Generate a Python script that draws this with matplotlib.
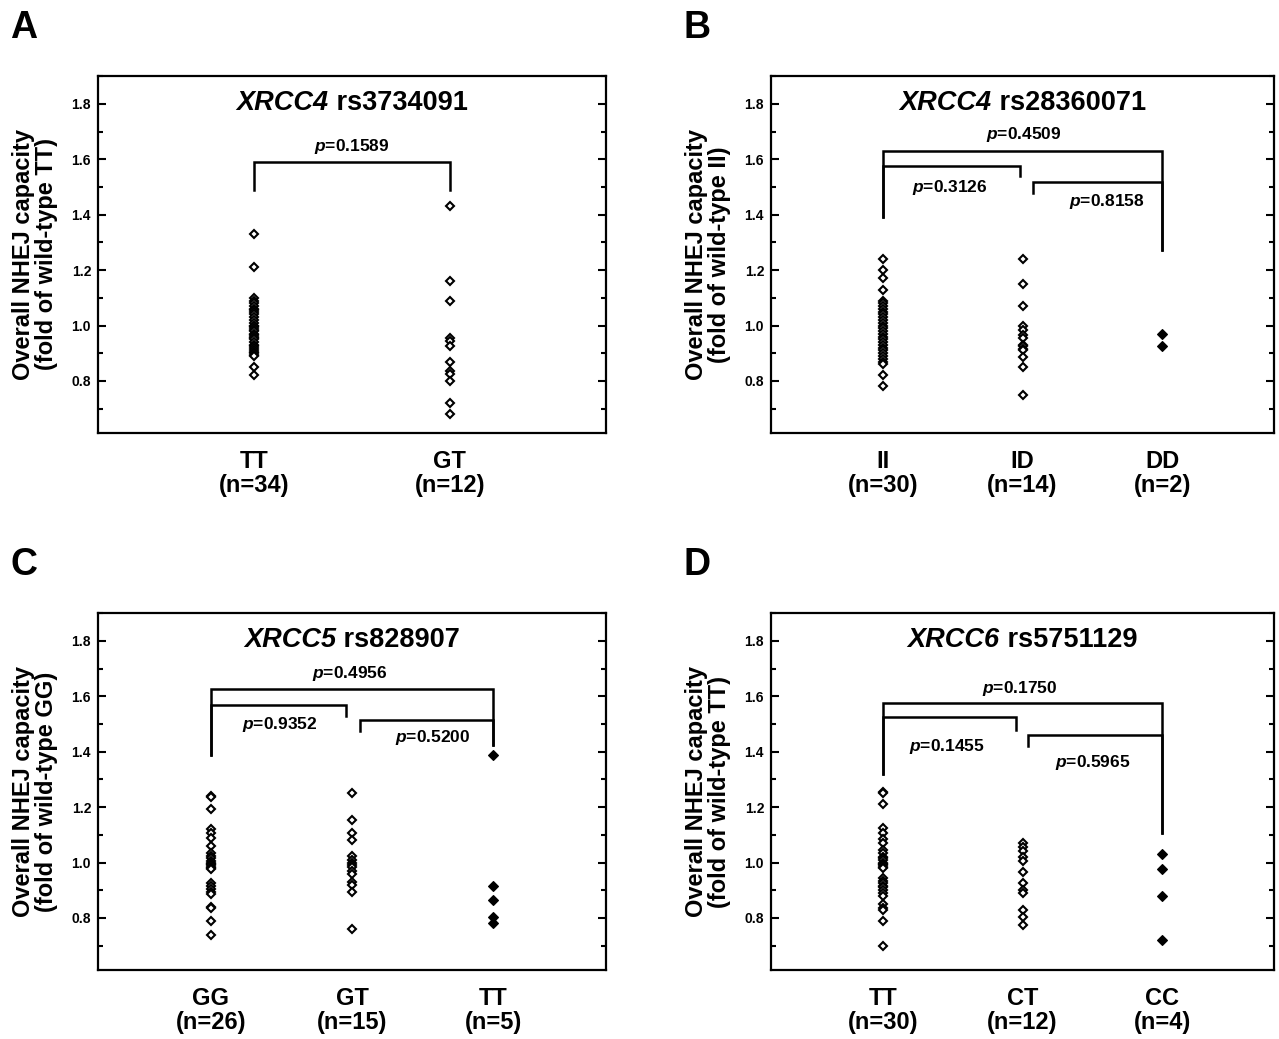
import matplotlib
matplotlib.use('Agg')
import matplotlib.pyplot as plt
from matplotlib.transforms import offset_copy
import numpy as np

plt.rcParams['font.family'] = ['Liberation Sans', 'DejaVu Sans']
plt.rcParams['font.weight'] = 'bold'
plt.rcParams['mathtext.fontset'] = 'custom'
plt.rcParams['mathtext.it'] = 'Liberation Sans:italic:bold'
plt.rcParams['mathtext.rm'] = 'Liberation Sans:bold'

# ---------------- data ----------------
# A: XRCC4 rs3734091
a_labels = ['TT\n(n=34)', 'GT\n(n=12)']
a_tt = [1.33, 1.21, 1.10, 1.09, 1.08, 1.07, 1.06, 1.055, 1.05, 1.04, 1.03, 1.02,
        1.01, 1.00, 1.00, 0.99, 0.985, 0.98, 0.97, 0.965, 0.96, 0.955, 0.95, 0.94,
        0.93, 0.925, 0.92, 0.91, 0.905, 0.90, 0.895, 0.89, 0.85, 0.82]
a_gt = [1.43, 1.16, 1.09, 0.955, 0.945, 0.925, 0.87, 0.835, 0.825, 0.80, 0.72, 0.68]

# B: XRCC4 rs28360071
b_labels = ['II\n(n=30)', 'ID\n(n=14)', 'DD\n(n=2)']
b_ii = [1.24, 1.20, 1.17, 1.13, 1.09, 1.08, 1.07, 1.06, 1.05, 1.04, 1.03, 1.02,
        1.01, 1.00, 0.99, 0.98, 0.97, 0.96, 0.95, 0.94, 0.93, 0.92, 0.91, 0.90,
        0.89, 0.88, 0.87, 0.86, 0.82, 0.78]
b_id = [1.24, 1.15, 1.07, 1.00, 0.985, 0.965, 0.955, 0.93, 0.925, 0.915, 0.91,
        0.885, 0.85, 0.75]
b_dd = [0.97, 0.925]

# C: XRCC5 rs828907
c_labels = ['GG\n(n=26)', 'GT\n(n=15)', 'TT\n(n=5)']
c_gg = [1.24, 1.235, 1.195, 1.12, 1.105, 1.09, 1.06, 1.035, 1.025, 1.015, 1.005,
        1.00, 0.995, 0.99, 0.985, 0.98, 0.975, 0.925, 0.915, 0.905, 0.895, 0.885,
        0.84, 0.835, 0.79, 0.74]
c_gt = [1.25, 1.155, 1.105, 1.08, 1.025, 1.01, 1.00, 0.99, 0.985, 0.97, 0.96,
        0.93, 0.92, 0.895, 0.76]
c_tt = [1.39, 0.915, 0.865, 0.805, 0.78]

# D: XRCC6 rs5751129
d_labels = ['TT\n(n=30)', 'CT\n(n=12)', 'CC\n(n=4)']
d_tt = [1.255, 1.25, 1.21, 1.125, 1.105, 1.085, 1.07, 1.045, 1.035, 1.02, 1.015,
        1.01, 1.00, 0.995, 0.99, 0.985, 0.98, 0.945, 0.935, 0.925, 0.915, 0.91,
        0.90, 0.89, 0.88, 0.85, 0.835, 0.83, 0.79, 0.70]
d_ct = [1.07, 1.055, 1.04, 1.02, 1.005, 0.965, 0.925, 0.90, 0.89, 0.83, 0.805, 0.775]
d_cc = [1.03, 0.975, 0.88, 0.72]

# brackets: (x_left, x_right, y, y_left_end, y_right_end)
# p labels: (x, y, text)
panels = [
    dict(letter='A', gene='XRCC4', snp='rs3734091', ylab='TT',
         groups=[a_tt, a_gt], filled=[False, False], labels=a_labels,
         rect=[98, 433, 508, 357], xlim=(0.2, 2.8),
         brackets=[(1, 2, 1.59, 1.49, 1.49)],
         ptexts=[(1.5, 1.645, '0.1589')]),
    dict(letter='B', gene='XRCC4', snp='rs28360071', ylab='II',
         groups=[b_ii, b_id, b_dd], filled=[False, False, True], labels=b_labels,
         rect=[771, 433, 503, 357], xlim=(0.2, 3.8),
         brackets=[(1, 3, 1.632, 1.393, 1.273), (1, 1.98, 1.576, 1.393, 1.54),
                   (2.075, 3, 1.519, 1.48, 1.273)],
         ptexts=[(2.01, 1.688, '0.4509'), (1.48, 1.497, '0.3126'),
                 (2.605, 1.447, '0.8158')]),
    dict(letter='C', gene='XRCC5', snp='rs828907', ylab='GG',
         groups=[c_gg, c_gt, c_tt], filled=[False, False, True], labels=c_labels,
         rect=[98, 970, 508, 357], xlim=(0.2, 3.8),
         brackets=[(1, 3, 1.627, 1.388, 1.425), (1, 1.958, 1.569, 1.388, 1.529),
                   (2.057, 3, 1.515, 1.475, 1.425)],
         ptexts=[(1.986, 1.681, '0.4956'), (1.49, 1.497, '0.9352'),
                 (2.574, 1.45, '0.5200')]),
    dict(letter='D', gene='XRCC6', snp='rs5751129', ylab='TT',
         groups=[d_tt, d_ct, d_cc], filled=[False, False, True], labels=d_labels,
         rect=[771, 970, 503, 357], xlim=(0.2, 3.8),
         brackets=[(1, 3, 1.576, 1.32, 1.108), (1, 1.954, 1.526, 1.32, 1.479),
                   (2.04, 3, 1.46, 1.42, 1.108)],
         ptexts=[(1.98, 1.63, '0.1750'), (1.46, 1.42, '0.1455'),
                 (2.505, 1.36, '0.5965')]),
]

W, H = 1279, 1039
fig = plt.figure(figsize=(W / 100, H / 100), dpi=100)
renderer = fig.canvas.get_renderer()

for p in panels:
    x0, ybot, w, h = p['rect']
    ax = fig.add_axes([x0 / W, (H - ybot) / H, w / W, h / H])
    for i, vals in enumerate(p['groups']):
        xs = np.full(len(vals), i + 1)
        if p['filled'][i]:
            ax.plot(xs, vals, 'D', ms=5, mfc='black', mec='black', mew=0.8,
                    zorder=3)
        else:
            ax.plot(xs, vals, 'D', ms=4, mfc='white', mec='black', mew=1.5,
                    zorder=3)

    for (xl, xr, y, yl, yr) in p['brackets']:
        ax.plot([xl, xl, xr, xr], [yl, y, y, yr], color='black', lw=1.8,
                solid_joinstyle='miter', zorder=2)
    for (tx, ty, t) in p['ptexts']:
        ax.text(tx, ty, r'$\mathit{p}$=' + t, ha='center', va='center',
                fontsize=12.5, fontweight='bold')

    # title: gene in bold italic, SNP id in bold, centred together
    t1 = ax.text(0.5, 0.925, p['gene'], transform=ax.transAxes, ha='left',
                 va='center', fontsize=19.5, fontweight='bold', style='italic')
    t2 = ax.annotate(' ' + p['snp'], xy=(1, 0.5), xycoords=t1, ha='left',
                     va='center', fontsize=19.5, fontweight='bold')
    w1 = t1.get_window_extent(renderer).width
    w2 = t2.get_window_extent(renderer).width
    t1.set_transform(offset_copy(ax.transAxes, fig, x=-(w1 + w2) / 2, y=0,
                                 units='dots'))

    ax.set_xlim(*p['xlim'])
    ax.set_ylim(0.612, 1.901)
    ax.set_yticks(np.arange(0.8, 1.81, 0.2))
    ax.set_yticks(np.arange(0.7, 1.91, 0.1), minor=True)
    ax.set_yticklabels(['%.1f' % v for v in np.arange(0.8, 1.81, 0.2)])
    ax.tick_params(axis='y', which='both', direction='in', left=True, right=True,
                   width=1.5, labelsize=10, pad=5)
    ax.tick_params(axis='y', which='major', length=6)
    ax.tick_params(axis='y', which='minor', length=3.5)
    ax.set_xticks(range(1, len(p['labels']) + 1))
    ax.set_xticklabels(p['labels'], fontsize=17, fontweight='bold', linespacing=1.05)
    ax.tick_params(axis='x', length=0, pad=12)
    for s in ax.spines.values():
        s.set_linewidth(1.6)
    ax.set_ylabel('Overall NHEJ capacity\n(fold of wild-type %s)' % p['ylab'],
                  fontsize=17, fontweight='bold', linespacing=1.0, labelpad=10)

    fig.text((x0 - 88) / W, 1 - (ybot - 357 - 66) / H, p['letter'],
             fontsize=27, fontweight='bold', ha='left', va='top')

fig.savefig('out.png', dpi=100)
